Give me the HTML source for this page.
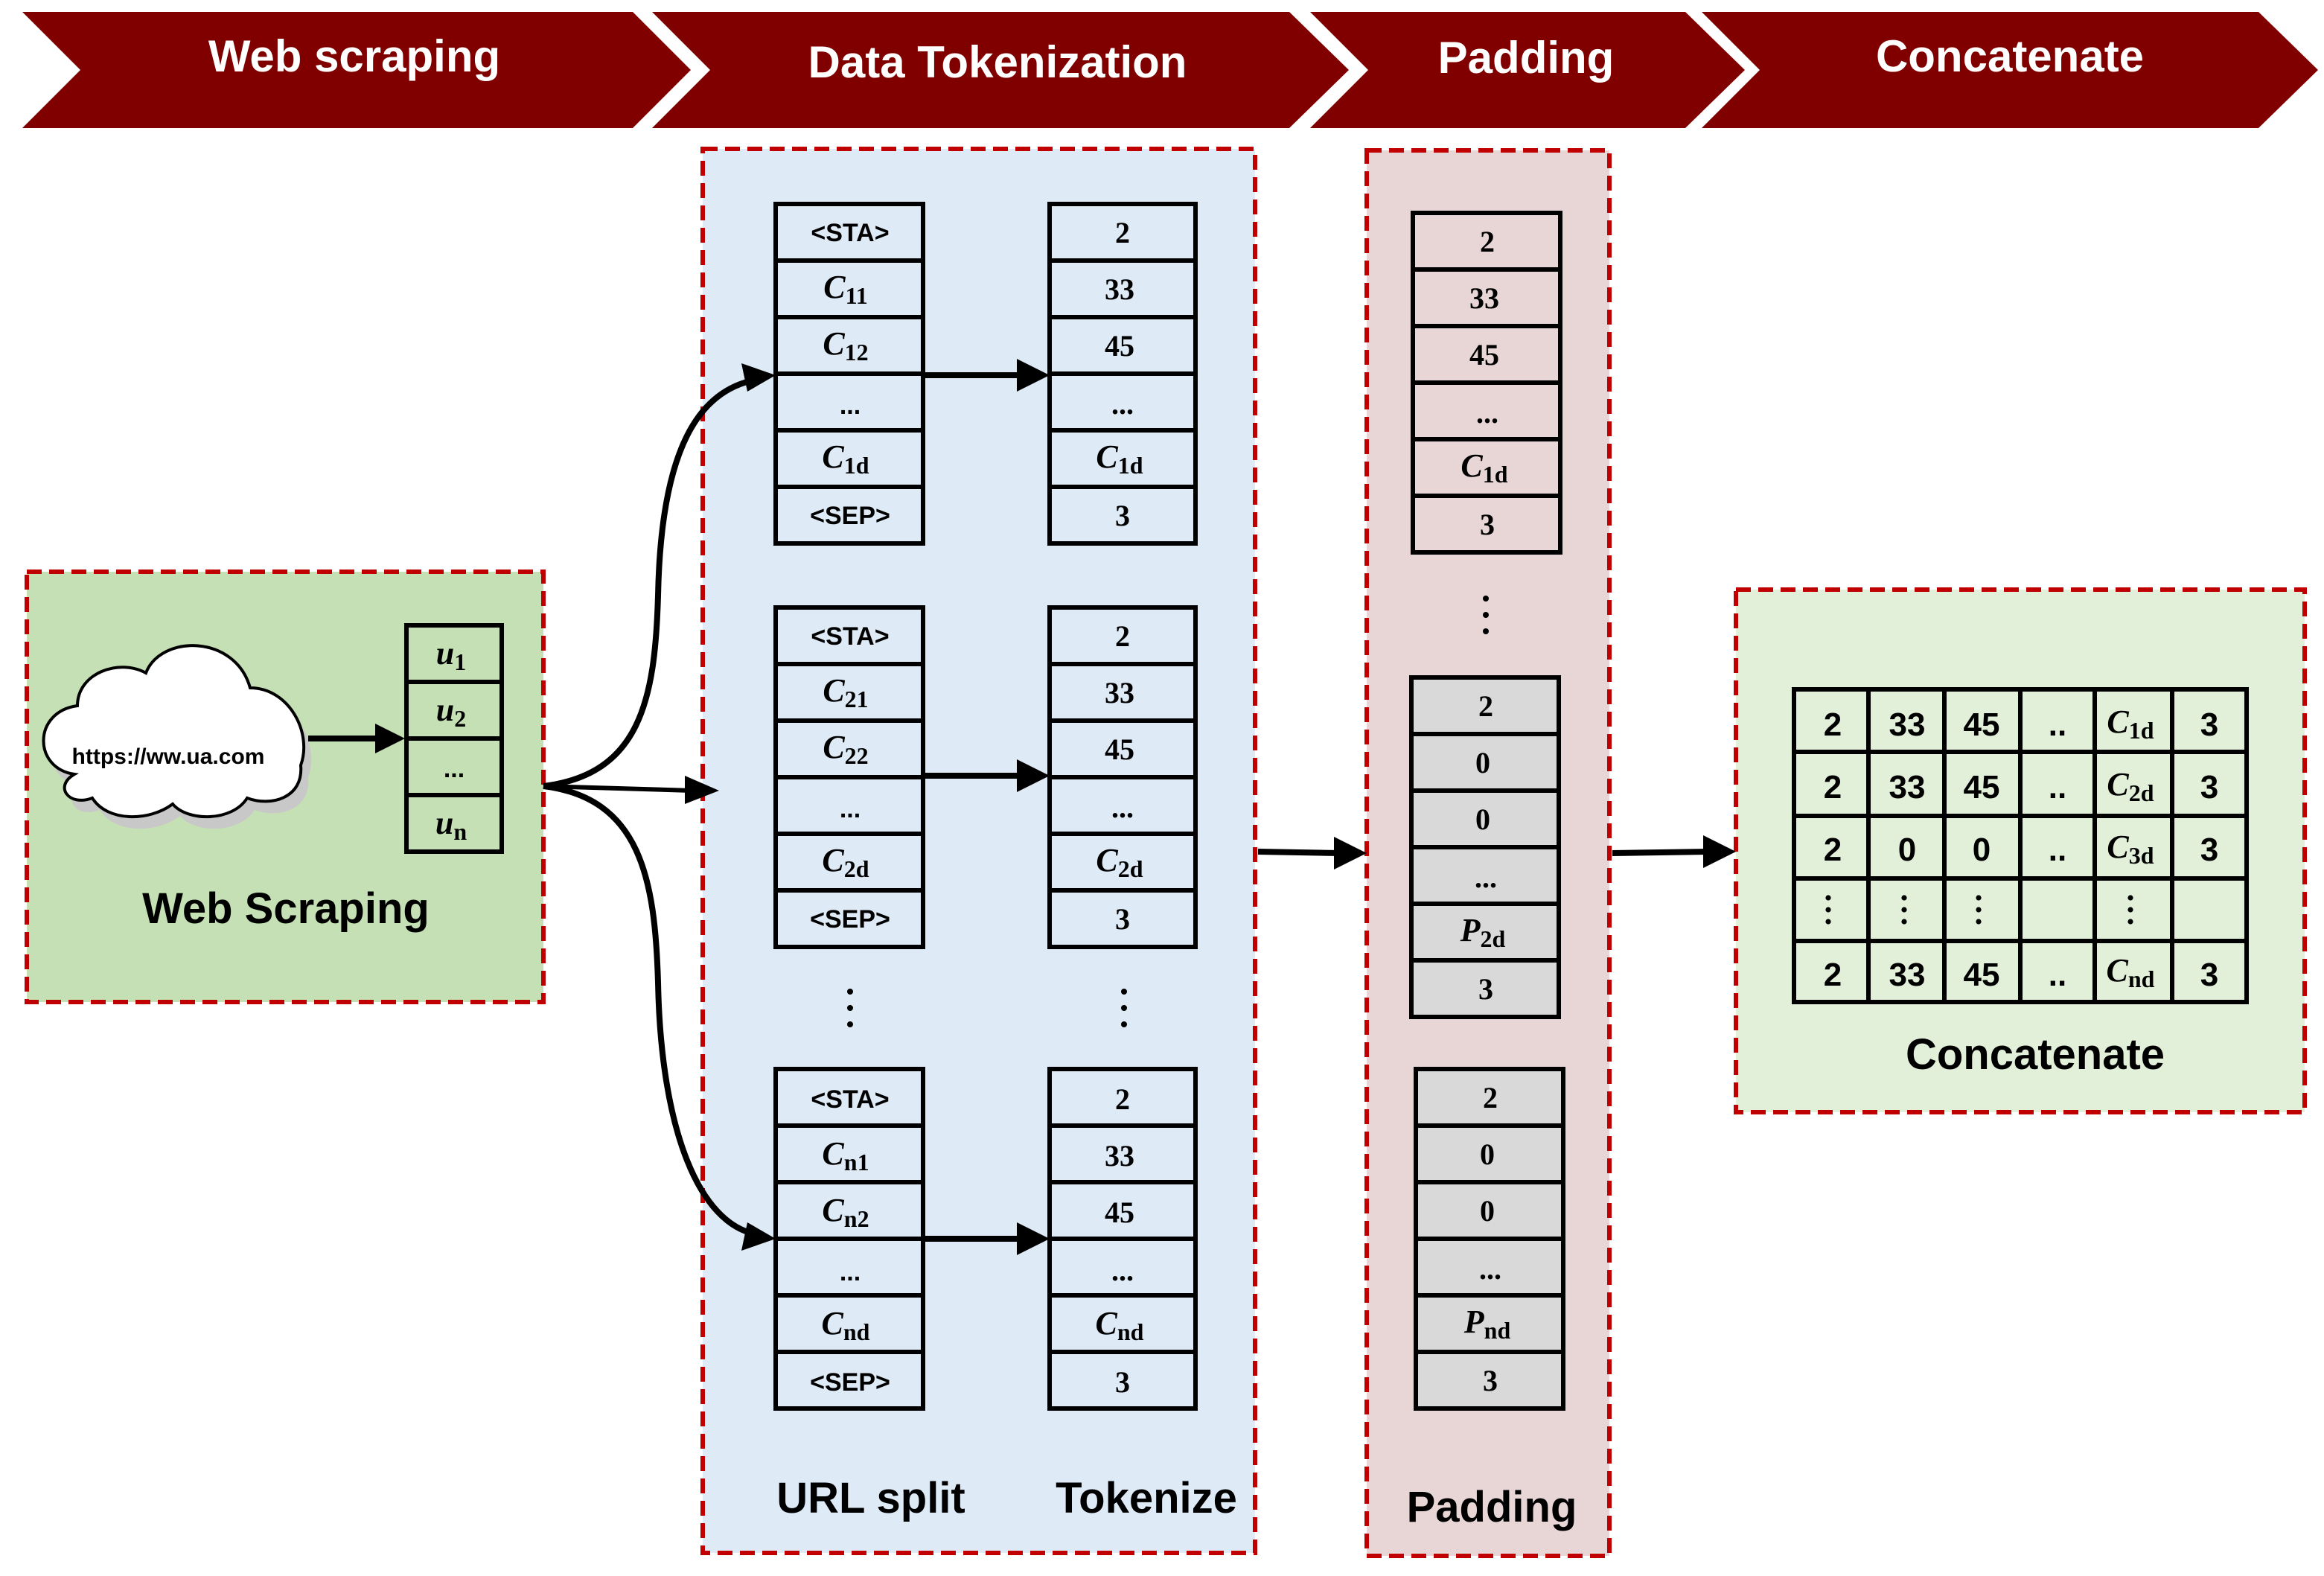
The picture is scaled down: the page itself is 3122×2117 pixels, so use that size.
<!DOCTYPE html>
<html><head><meta charset="utf-8"><style>
html,body{margin:0;padding:0;background:#fff;}
svg{display:block;}
.s{font-family:"Liberation Sans",sans-serif;font-weight:bold;font-size:17px;text-anchor:middle;}
.n{font-family:"Liberation Serif",serif;font-weight:bold;font-size:20px;text-anchor:middle;}
.m{font-family:"Liberation Serif",serif;font-weight:bold;font-style:italic;font-size:22px;text-anchor:middle;}
.sub{font-size:16px;font-style:normal;}
.h{font-family:"Liberation Sans",sans-serif;font-weight:bold;font-size:30px;fill:#fff;text-anchor:middle;}
.l{font-family:"Liberation Sans",sans-serif;font-weight:bold;font-size:29px;text-anchor:middle;}
.g{font-family:"Liberation Sans",sans-serif;font-weight:bold;font-size:22px;text-anchor:middle;}
.st{stroke:#000;stroke-width:3;}
</style></head><body>
<svg width="3122" height="2117" viewBox="0 0 1561 1058.5" xmlns="http://www.w3.org/2000/svg">
<!-- banners -->
<g fill="#800000">
<polygon points="15,8 425,8 464,47 425,86 15,86 54,47"/>
<polygon points="438,8 866,8 906,47 866,86 438,86 477,47"/>
<polygon points="880,8 1132,8 1172,47 1132,86 880,86 919,47"/>
<polygon points="1143,8 1517,8 1557,47 1517,86 1143,86 1182,47"/>
</g>
<text class="h" x="238" y="48">Web scraping</text>
<text class="h" x="670" y="52">Data Tokenization</text>
<text class="h" x="1025" y="49">Padding</text>
<text class="h" x="1350" y="48">Concatenate</text>

<!-- containers -->
<g stroke="#c00000" stroke-width="3" stroke-dasharray="10,5">
<rect x="18" y="384" width="347" height="289" fill="#c5e0b4"/>
<rect x="472" y="100" width="371" height="943" fill="#deeaf6"/>
<rect x="918" y="101" width="163" height="944" fill="#e8d6d6"/>
<rect x="1166" y="396" width="382" height="351" fill="#e2efd9"/>
</g>

<!-- web scraping -->
<path d="M50,520 C22,516 22,478 52,474 C52,452 80,442 98,452 C108,426 158,426 168,462 C194,462 210,492 202,514 C204,536 182,542 166,536 C156,552 126,552 116,540 C100,552 72,552 62,536 C46,542 36,528 50,520 Z" fill="#c8c8c8" transform="translate(5,8)"/>
<path d="M50,520 C22,516 22,478 52,474 C52,452 80,442 98,452 C108,426 158,426 168,462 C194,462 210,492 202,514 C204,536 182,542 166,536 C156,552 126,552 116,540 C100,552 72,552 62,536 C46,542 36,528 50,520 Z" fill="#fff" stroke="#000" stroke-width="2"/>
<text x="113" y="513" style="font-family:'Liberation Sans',sans-serif;font-weight:bold;font-size:15px;text-anchor:middle">https://ww.ua.com</text>
<line x1="207" y1="496" x2="255" y2="496" stroke="#000" stroke-width="4"/>
<polygon points="252,486 272,496 252,506"/>
<g fill="#c5e0b4" class="st"><rect x="273" y="420" width="64" height="152"/></g>
<g class="st"><line x1="273" y1="458" x2="337" y2="458"/><line x1="273" y1="496" x2="337" y2="496"/><line x1="273" y1="534" x2="337" y2="534"/></g>
<text class="m" x="303" y="446">u<tspan class="sub" dy="4">1</tspan></text>
<text class="m" x="303" y="484">u<tspan class="sub" dy="4">2</tspan></text>
<text class="s" x="305" y="522">...</text>
<text class="m" x="303" y="560">u<tspan class="sub" dy="4">n</tspan></text>
<text class="l" x="192" y="620">Web Scraping</text>

<!-- branching arrows -->
<g fill="none" stroke="#000" stroke-width="4">
<path d="M365,528 C430,520 440,470 442,400 C444,300 470,262 508,255"/>
<path d="M365,528 C430,536 440,590 442,660 C444,760 470,822 508,829"/>
</g>
<line x1="365" y1="528" x2="465" y2="531" stroke="#000" stroke-width="3"/>
<polygon points="460,521 483,531 460,540"/>
<polygon points="498,244 521,252 502,263"/>
<polygon points="498,840 521,832 502,821"/>

<!-- URL split / tokenize stacks -->
<g fill="#deeaf6" class="st">
<rect x="521" y="137" width="99" height="228"/><rect x="705" y="137" width="98" height="228"/>
<rect x="521" y="408" width="99" height="228"/><rect x="705" y="408" width="98" height="228"/>
<rect x="521" y="718" width="99" height="228"/><rect x="705" y="718" width="98" height="228"/>
</g>
<g class="st">
<path d="M521,175H620M521,213H620M521,251H620M521,289H620M521,327H620"/>
<path d="M705,175H803M705,213H803M705,251H803M705,289H803M705,327H803"/>
<path d="M521,446H620M521,484H620M521,522H620M521,560H620M521,598H620"/>
<path d="M705,446H803M705,484H803M705,522H803M705,560H803M705,598H803"/>
<path d="M521,756H620M521,794H620M521,832H620M521,870H620M521,908H620"/>
<path d="M705,756H803M705,794H803M705,832H803M705,870H803M705,908H803"/>
</g>
<g stroke="#000" stroke-width="4"><line x1="620" y1="252" x2="688" y2="252"/><line x1="620" y1="521" x2="688" y2="521"/><line x1="620" y1="832" x2="688" y2="832"/></g>
<polygon points="683,241 705,252 683,263"/><polygon points="683,510 705,521 683,532"/><polygon points="683,821 705,832 683,843"/>

<!-- group1 -->
<text class="s" x="571" y="162">&lt;STA&gt;</text>
<text class="m" x="568" y="200">C<tspan class="sub" dy="4">11</tspan></text>
<text class="m" x="568" y="238">C<tspan class="sub" dy="4">12</tspan></text>
<text class="s" x="571" y="278">...</text>
<text class="m" x="568" y="314">C<tspan class="sub" dy="4">1d</tspan></text>
<text class="s" x="571" y="352">&lt;SEP&gt;</text>
<text class="n" x="754" y="163">2</text><text class="n" x="752" y="201">33</text><text class="n" x="752" y="239">45</text>
<text class="n" x="754" y="278">...</text>
<text class="m" x="752" y="314">C<tspan class="sub" dy="4">1d</tspan></text>
<text class="n" x="754" y="353">3</text>
<!-- group2 -->
<text class="s" x="571" y="433">&lt;STA&gt;</text>
<text class="m" x="568" y="471">C<tspan class="sub" dy="4">21</tspan></text>
<text class="m" x="568" y="509">C<tspan class="sub" dy="4">22</tspan></text>
<text class="s" x="571" y="549">...</text>
<text class="m" x="568" y="585">C<tspan class="sub" dy="4">2d</tspan></text>
<text class="s" x="571" y="623">&lt;SEP&gt;</text>
<text class="n" x="754" y="434">2</text><text class="n" x="752" y="472">33</text><text class="n" x="752" y="510">45</text>
<text class="n" x="754" y="549">...</text>
<text class="m" x="752" y="585">C<tspan class="sub" dy="4">2d</tspan></text>
<text class="n" x="754" y="624">3</text>
<g fill="#000"><circle cx="571" cy="666" r="2"/><circle cx="571" cy="677" r="2"/><circle cx="571" cy="688" r="2"/>
<circle cx="755" cy="666" r="2"/><circle cx="755" cy="677" r="2"/><circle cx="755" cy="688" r="2"/>
<circle cx="998" cy="402" r="2"/><circle cx="998" cy="413" r="2"/><circle cx="998" cy="424" r="2"/></g>
<!-- group3 -->
<text class="s" x="571" y="744">&lt;STA&gt;</text>
<text class="m" x="568" y="782">C<tspan class="sub" dy="4">n1</tspan></text>
<text class="m" x="568" y="820">C<tspan class="sub" dy="4">n2</tspan></text>
<text class="s" x="571" y="860">...</text>
<text class="m" x="568" y="896">C<tspan class="sub" dy="4">nd</tspan></text>
<text class="s" x="571" y="934">&lt;SEP&gt;</text>
<text class="n" x="754" y="745">2</text><text class="n" x="752" y="783">33</text><text class="n" x="752" y="821">45</text>
<text class="n" x="754" y="860">...</text>
<text class="m" x="752" y="896">C<tspan class="sub" dy="4">nd</tspan></text>
<text class="n" x="754" y="935">3</text>
<text class="l" x="585" y="1016">URL split</text>
<text class="l" x="770" y="1016">Tokenize</text>

<g stroke="#000" stroke-width="4"><line x1="845" y1="572" x2="900" y2="573"/><line x1="1083" y1="573" x2="1148" y2="572"/></g>
<polygon points="896,562 918,573 896,584"/><polygon points="1144,561 1166,572 1144,583"/>

<!-- padding stacks -->
<g class="st"><rect x="949" y="143" width="99" height="228" fill="#e8d6d6"/>
<rect x="948" y="455" width="99" height="228" fill="#d9d9d9"/>
<rect x="951" y="718" width="99" height="228" fill="#d9d9d9"/>
<path d="M949,181H1048M949,219H1048M949,257H1048M949,295H1048M949,333H1048"/>
<path d="M948,493H1047M948,531H1047M948,569H1047M948,607H1047M948,645H1047"/>
<path d="M951,756H1050M951,794H1050M951,832H1050M951,870H1050M951,908H1050"/>
</g>
<text class="n" x="999" y="169">2</text><text class="n" x="997" y="207">33</text><text class="n" x="997" y="245">45</text>
<text class="n" x="999" y="284">...</text>
<text class="m" x="997" y="320">C<tspan class="sub" dy="4">1d</tspan></text>
<text class="n" x="999" y="359">3</text>
<text class="n" x="998" y="481">2</text><text class="n" x="996" y="519">0</text><text class="n" x="996" y="557">0</text>
<text class="n" x="998" y="596">...</text>
<text class="m" x="996" y="632">P<tspan class="sub" dy="4">2d</tspan></text>
<text class="n" x="998" y="671">3</text>
<text class="n" x="1001" y="744">2</text><text class="n" x="999" y="782">0</text><text class="n" x="999" y="820">0</text>
<text class="n" x="1001" y="859">...</text>
<text class="m" x="999" y="895">P<tspan class="sub" dy="4">nd</tspan></text>
<text class="n" x="1001" y="934">3</text>
<text class="l" x="1002" y="1022">Padding</text>

<!-- concat grid -->
<g class="st" fill="none">
<rect x="1205" y="463" width="304" height="210" fill="#e2efd9"/>
<path d="M1255,463V673M1306,463V673M1357,463V673M1407,463V673M1459,463V673"/>
<path d="M1205,505H1509M1205,548H1509M1205,590H1509M1205,632H1509"/>
</g>
<g class="g">
<text x="1231" y="494">2</text><text x="1281" y="494">33</text><text x="1331" y="494">45</text><text x="1382" y="494">..</text><text x="1484" y="494">3</text>
<text x="1231" y="536">2</text><text x="1281" y="536">33</text><text x="1331" y="536">45</text><text x="1382" y="536">..</text><text x="1484" y="536">3</text>
<text x="1231" y="578">2</text><text x="1281" y="578">0</text><text x="1331" y="578">0</text><text x="1382" y="578">..</text><text x="1484" y="578">3</text>
<text x="1231" y="662">2</text><text x="1281" y="662">33</text><text x="1331" y="662">45</text><text x="1382" y="662">..</text><text x="1484" y="662">3</text>
</g>
<text class="m" x="1431" y="492">C<tspan class="sub" dy="4">1d</tspan></text>
<text class="m" x="1431" y="534">C<tspan class="sub" dy="4">2d</tspan></text>
<text class="m" x="1431" y="576">C<tspan class="sub" dy="4">3d</tspan></text>
<text class="m" x="1431" y="659">C<tspan class="sub" dy="4">nd</tspan></text>
<g fill="#000">
<circle cx="1228" cy="603" r="1.8"/><circle cx="1228" cy="611" r="1.8"/><circle cx="1228" cy="619" r="1.8"/>
<circle cx="1279" cy="603" r="1.8"/><circle cx="1279" cy="611" r="1.8"/><circle cx="1279" cy="619" r="1.8"/>
<circle cx="1329" cy="603" r="1.8"/><circle cx="1329" cy="611" r="1.8"/><circle cx="1329" cy="619" r="1.8"/>
<circle cx="1431" cy="603" r="1.8"/><circle cx="1431" cy="611" r="1.8"/><circle cx="1431" cy="619" r="1.8"/>
</g>
<text class="l" x="1367" y="718">Concatenate</text>
</svg>
</body></html>
